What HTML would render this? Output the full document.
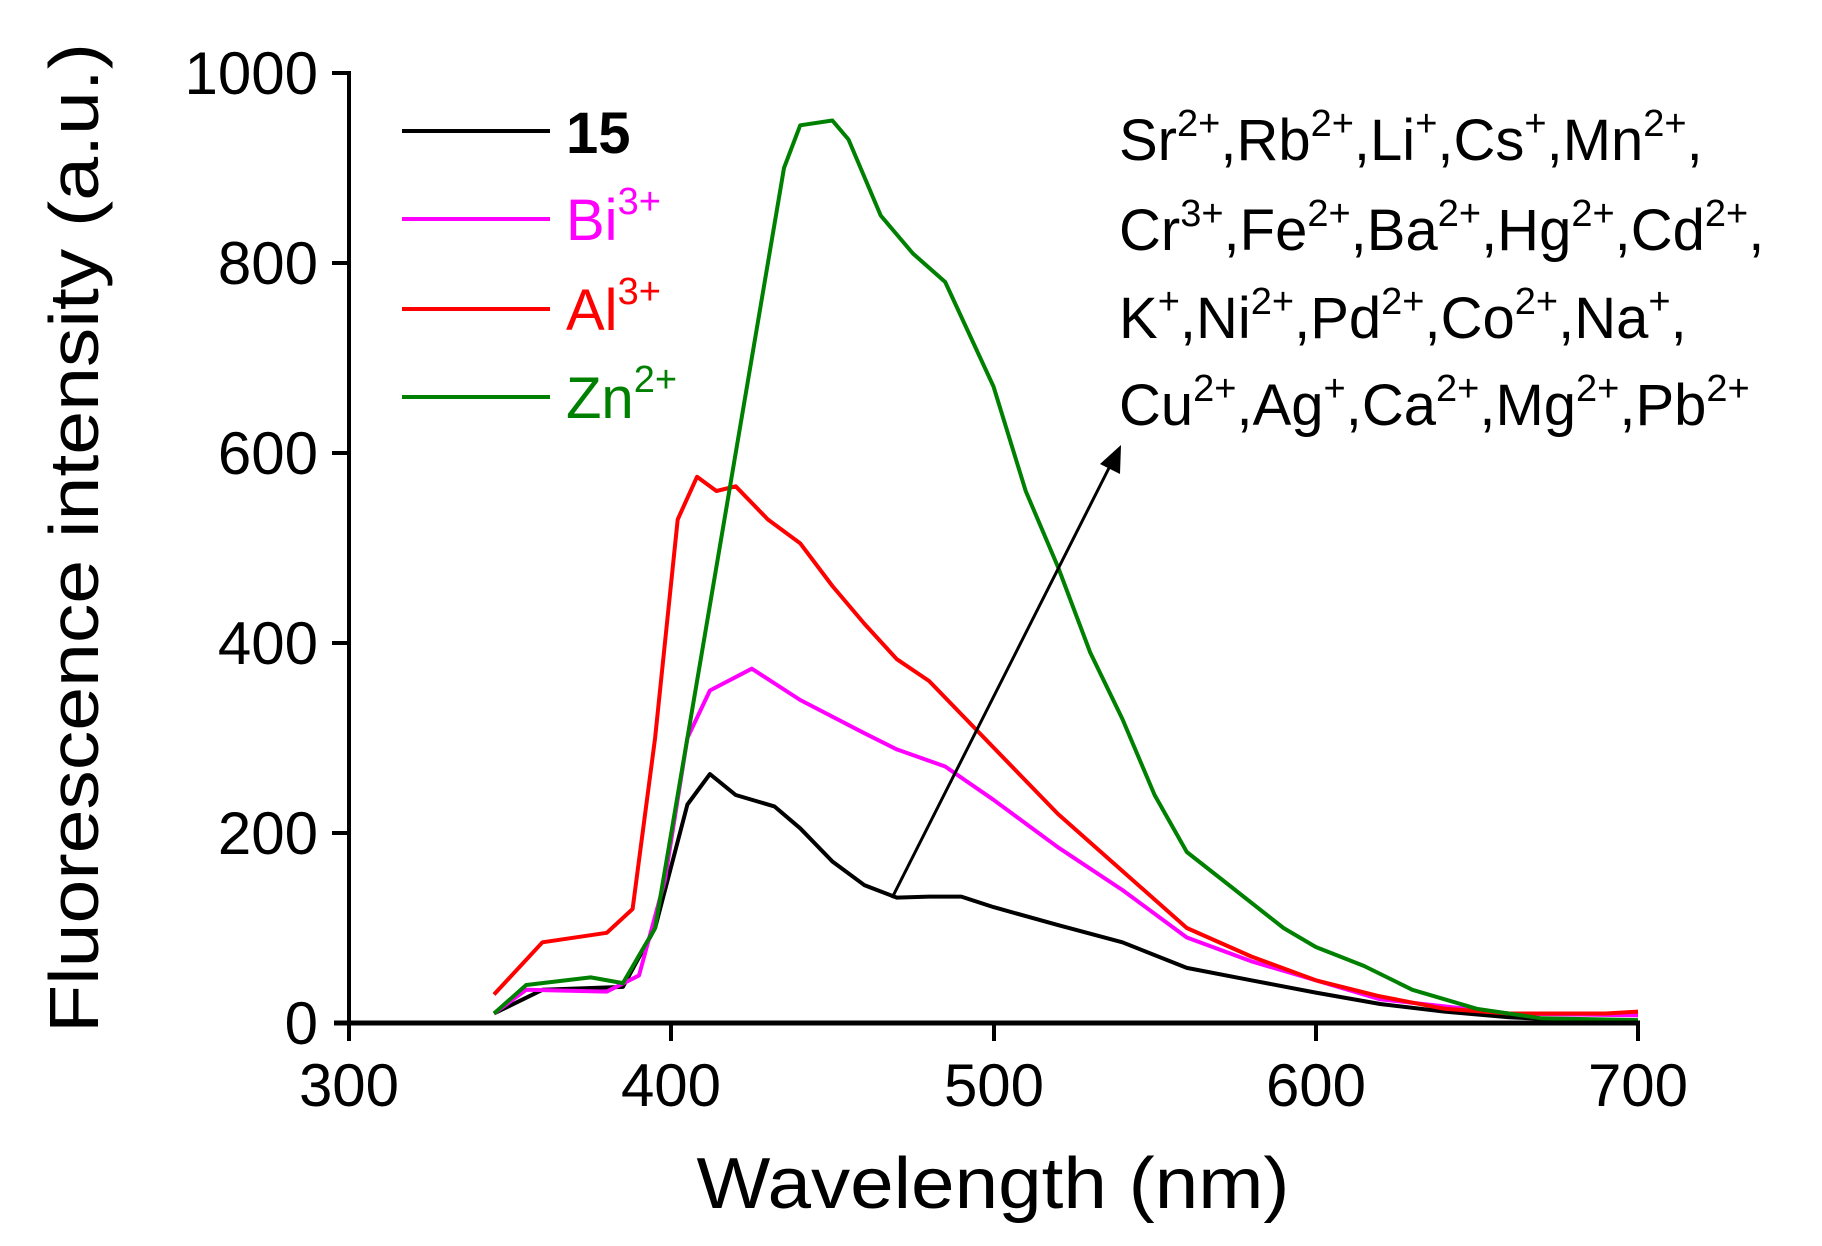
<!DOCTYPE html>
<html><head><meta charset="utf-8"><style>
html,body{margin:0;padding:0;background:#fff;}
svg{display:block;font-family:"Liberation Sans",Arial,sans-serif;}
</style></head><body>
<svg id="s" width="1822" height="1246" viewBox="0 0 1822 1246" xmlns="http://www.w3.org/2000/svg">
<rect width="1822" height="1246" fill="#fff"/>
<g id="curves" fill="none" stroke-width="4" stroke-linejoin="round"></g>
<line x1="349" y1="71" x2="349" y2="1025" stroke="#000" stroke-width="4"/>
<line x1="334" y1="1023" x2="1640" y2="1023" stroke="#000" stroke-width="5"/>
<g stroke="#000" stroke-width="4">
<line x1="332" y1="73" x2="349" y2="73"/><line x1="332" y1="263" x2="349" y2="263"/>
<line x1="332" y1="453" x2="349" y2="453"/><line x1="332" y1="643" x2="349" y2="643"/>
<line x1="332" y1="833" x2="349" y2="833"/>
<line x1="349" y1="1023" x2="349" y2="1041"/><line x1="671" y1="1023" x2="671" y2="1041"/>
<line x1="994" y1="1023" x2="994" y2="1041"/><line x1="1316" y1="1023" x2="1316" y2="1041"/>
<line x1="1638" y1="1023" x2="1638" y2="1041"/>
</g>
<g font-size="60" text-anchor="end" fill="#000">
<text x="318" y="94">1000</text><text x="318" y="284">800</text><text x="318" y="474">600</text>
<text x="318" y="664">400</text><text x="318" y="854">200</text><text x="318" y="1044">0</text>
</g>
<g font-size="60" text-anchor="middle" fill="#000">
<text x="349" y="1106">300</text><text x="671" y="1106">400</text><text x="994" y="1106">500</text>
<text x="1316" y="1106">600</text><text x="1638" y="1106">700</text>
</g>
<text x="993" y="1208" font-size="72" text-anchor="middle" textLength="593" lengthAdjust="spacingAndGlyphs">Wavelength (nm)</text>
<text transform="translate(98,538) rotate(-90)" font-size="70" text-anchor="middle" textLength="990" lengthAdjust="spacingAndGlyphs">Fluorescence intensity (a.u.)</text>
<g stroke-width="4">
<line x1="402" y1="131" x2="550" y2="131" stroke="#000"/>
<line x1="402" y1="219" x2="550" y2="219" stroke="#ff00ff"/>
<line x1="402" y1="309" x2="550" y2="309" stroke="#ff0000"/>
<line x1="402" y1="397" x2="550" y2="397" stroke="#008000"/>
</g>
<g font-size="58">
<text x="566" y="153" font-weight="bold" fill="#000">15</text>
<text x="566" y="240" fill="#ff00ff">Bi<tspan font-size="38" dy="-26">3+</tspan></text>
<text x="566" y="330" fill="#ff0000">Al<tspan font-size="38" dy="-26">3+</tspan></text>
<text x="566" y="418" fill="#008000">Zn<tspan font-size="38" dy="-26">2+</tspan></text>
</g>
<g font-size="58" fill="#000">
<text x="1119" y="160">Sr<tspan font-size="38" dy="-24">2+</tspan><tspan dy="24">,Rb</tspan><tspan font-size="38" dy="-24">2+</tspan><tspan dy="24">,Li</tspan><tspan font-size="38" dy="-24">+</tspan><tspan dy="24">,Cs</tspan><tspan font-size="38" dy="-24">+</tspan><tspan dy="24">,Mn</tspan><tspan font-size="38" dy="-24">2+</tspan><tspan dy="24">,</tspan></text>
<text x="1119" y="250">Cr<tspan font-size="38" dy="-24">3+</tspan><tspan dy="24">,Fe</tspan><tspan font-size="38" dy="-24">2+</tspan><tspan dy="24">,Ba</tspan><tspan font-size="38" dy="-24">2+</tspan><tspan dy="24">,Hg</tspan><tspan font-size="38" dy="-24">2+</tspan><tspan dy="24">,Cd</tspan><tspan font-size="38" dy="-24">2+</tspan><tspan dy="24">,</tspan></text>
<text x="1119" y="338">K<tspan font-size="38" dy="-24">+</tspan><tspan dy="24">,Ni</tspan><tspan font-size="38" dy="-24">2+</tspan><tspan dy="24">,Pd</tspan><tspan font-size="38" dy="-24">2+</tspan><tspan dy="24">,Co</tspan><tspan font-size="38" dy="-24">2+</tspan><tspan dy="24">,Na</tspan><tspan font-size="38" dy="-24">+</tspan><tspan dy="24">,</tspan></text>
<text x="1119" y="425">Cu<tspan font-size="38" dy="-24">2+</tspan><tspan dy="24">,Ag</tspan><tspan font-size="38" dy="-24">+</tspan><tspan dy="24">,Ca</tspan><tspan font-size="38" dy="-24">2+</tspan><tspan dy="24">,Mg</tspan><tspan font-size="38" dy="-24">2+</tspan><tspan dy="24">,Pb</tspan><tspan font-size="38" dy="-24">2+</tspan></text>
</g>
<line x1="892" y1="898" x2="1112" y2="462" stroke="#000" stroke-width="3"/>
<polygon points="1121,445 1120,474 1100,464" fill="#000"/>
</svg>
<script>
function X(w){return 349+(w-300)*3.2225;}
function Y(v){return 1023-v*0.95;}
var data={
"#000000":[[345,10],[360,35],[385,38],[395,100],[405,230],[412,262],[420,240],[432,228],[440,205],[450,170],[460,145],[470,132],[480,133],[490,133],[500,122],[520,103],[540,85],[560,58],[580,45],[600,32],[620,20],[640,12],[660,6],[680,3],[700,2]],
"#ff00ff":[[345,10],[355,35],[380,33],[390,50],[398,150],[405,300],[412,350],[425,373],[440,340],[460,305],[470,288],[485,270],[500,235],[520,185],[540,140],[560,90],[580,65],[600,45],[620,25],[660,10],[700,8]],
"#ff0000":[[345,30],[360,85],[380,95],[388,120],[395,300],[402,530],[408,575],[414,560],[420,565],[430,530],[440,505],[450,460],[460,420],[470,383],[480,360],[500,290],[520,220],[540,160],[560,100],[580,70],[600,45],[620,28],[640,15],[660,10],[690,10],[700,12]],
"#008000":[[345,10],[355,40],[375,48],[385,42],[395,100],[405,300],[415,500],[425,700],[435,900],[440,945],[450,950],[455,930],[465,850],[475,810],[485,780],[500,670],[510,560],[520,480],[530,390],[540,320],[550,240],[560,180],[575,140],[590,100],[600,80],[615,60],[630,35],[650,15],[670,5],[700,3]]};
var g=document.getElementById("curves");
for(var c in data){var p=document.createElementNS("http://www.w3.org/2000/svg","polyline");
p.setAttribute("points",data[c].map(function(d){return X(d[0]).toFixed(1)+","+Y(d[1]).toFixed(1);}).join(" "));
p.setAttribute("stroke",c);g.appendChild(p);}
</script>
</body></html>
